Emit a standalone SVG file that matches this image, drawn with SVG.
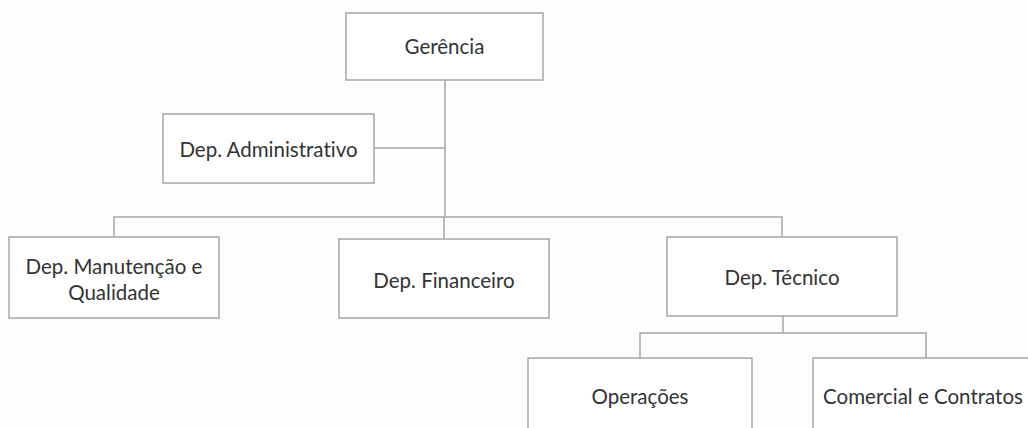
<svg xmlns="http://www.w3.org/2000/svg" width="1028" height="428" viewBox="0 0 1028 428">
  <style>
    .box { fill: #ffffff; stroke: #a6a6a6; stroke-width: 1.5; }
    .lbl { font-family: Lato, "Open Sans", "Noto Sans", sans-serif; font-size: 20.5px; fill: #333333; text-anchor: middle; dominant-baseline: central; font-variant-ligatures: none; font-feature-settings: "liga" 0, "dlig" 0; }
    .wire { fill: none; stroke: #a6a6a6; stroke-width: 1.5; }
  </style>
  <rect width="1028" height="428" fill="#fdfdfd"/>

  <!-- connectors -->
  <g id="connectors">
    <path class="wire" d="M445 80 V217"/>
    <path class="wire" d="M374 148 H445"/>
    <path class="wire" d="M114 237 V217 H782 V237"/>
    <path class="wire" d="M444 217 V239"/>
    <path class="wire" d="M783 316 V333"/>
    <path class="wire" d="M640 358 V333 H926 V358"/>
  </g>

  <g id="gerencia">
    <rect class="box" x="346" y="13" width="197" height="67"/>
    <text class="lbl" x="444.5" y="46">Gerência</text>
  </g>

  <g id="dep-administrativo">
    <rect class="box" x="163" y="114" width="211" height="69"/>
    <text class="lbl" x="268.5" y="149">Dep. Administrativo</text>
  </g>

  <g id="dep-manutencao">
    <rect class="box" x="9" y="237" width="210" height="81"/>
    <text class="lbl" x="114" y="266">Dep. Manutenção e</text>
    <text class="lbl" x="114" y="292">Qualidade</text>
  </g>

  <g id="dep-financeiro">
    <rect class="box" x="339" y="239" width="210" height="79"/>
    <text class="lbl" x="444" y="280">Dep. Financeiro</text>
  </g>

  <g id="dep-tecnico">
    <rect class="box" x="667" y="237" width="230" height="79"/>
    <text class="lbl" x="782" y="277">Dep. Técnico</text>
  </g>

  <g id="operacoes">
    <rect class="box" x="528" y="358" width="224" height="90"/>
    <text class="lbl" x="640" y="396">Operações</text>
  </g>

  <g id="comercial-contratos">
    <rect class="box" x="813" y="358" width="226" height="90"/>
    <text class="lbl" x="923" y="396">Comercial e Contratos</text>
  </g>
</svg>
